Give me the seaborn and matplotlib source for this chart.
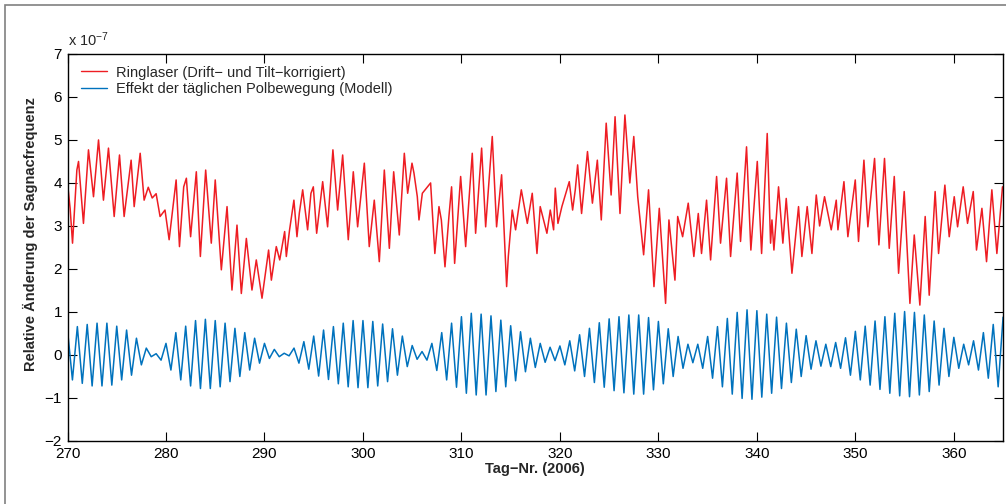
# Ringlaser vs. Modell der taeglichen Polbewegung (Werte x 1e-7)

import numpy as np
import pandas as pd
import matplotlib.pyplot as plt
import seaborn as sns
from matplotlib.lines import Line2D
from matplotlib.patches import Rectangle

# Ringlaser: Extremwerte (Tag, Wert)
red_tag = [
    270.0, 270.27, 270.51, 270.95, 271.12, 271.62, 271.9, 272.13, 272.64, 273.15,
    273.65, 274.16, 274.74, 275.28, 275.75, 276.46, 276.77, 277.38, 277.78, 278.2,
    278.6, 279.0, 279.4, 279.9, 280.32, 281.03, 281.37, 281.8, 282.07, 282.5,
    283.08, 283.49, 284.03, 284.6, 285.0, 285.62, 286.2, 286.7, 287.21, 287.65,
    288.16, 288.73, 289.17, 289.75, 290.42, 290.7, 291.2, 291.55, 292.05, 292.22,
    292.55, 292.99, 293.3, 293.54, 293.88, 294.38, 294.72, 294.96, 295.3, 295.91,
    296.41, 296.95, 297.43, 297.94, 298.51, 299.02, 299.46, 300.14, 300.64, 301.15,
    301.66, 302.17, 302.68, 303.12, 303.69, 304.2, 304.54, 304.98, 305.18, 305.52,
    305.69, 306.03, 306.87, 307.3, 307.72, 307.96, 308.33, 308.73, 309.0, 309.31,
    309.92, 310.43, 311.1, 311.44, 312.05, 312.46, 313.13, 313.57, 314.08, 314.59,
    314.76, 315.16, 315.5, 316.08, 316.69, 317.19, 317.67, 318.0, 318.34, 318.68,
    319.02, 319.36, 319.53, 319.8, 320.2, 320.95, 321.29, 321.56, 321.8, 322.2,
    322.8, 323.3, 323.8, 324.2, 324.7, 325.2, 325.6, 326.1, 326.6, 327.1,
    327.5, 327.9, 328.5, 329.0, 329.55, 330.09, 330.73, 331.07, 331.68, 331.96,
    332.46, 333.03, 333.6, 334.05, 334.38, 334.89, 335.3, 335.91, 336.31, 336.92,
    337.33, 338.0, 338.34, 338.95, 339.39, 340.04, 340.48, 341.05, 341.39, 341.53,
    341.73, 342.2, 342.64, 342.98, 343.56, 344.23, 344.57, 345.11, 345.59, 346.03,
    346.37, 346.87, 347.55, 348.06, 348.23, 348.84, 349.24, 349.99, 350.32, 350.87,
    351.27, 351.95, 352.39, 352.96, 353.44, 353.95, 354.39, 354.96, 355.54, 355.98,
    356.55, 357.09, 357.5, 358.1, 358.45, 359.09, 359.53, 360.04, 360.38, 360.95,
    361.39, 361.97, 362.3, 362.85, 363.32, 363.86, 364.37, 364.94, 365.0,
]
red_wert = [
    4.0, 3.4, 2.6, 4.3, 4.5, 3.06, 4.0, 4.77, 3.68, 5.0,
    3.6, 4.81, 3.22, 4.65, 3.22, 4.53, 3.45, 4.69, 3.6, 3.9,
    3.65, 3.75, 3.22, 3.37, 2.68, 4.07, 2.52, 3.91, 4.11, 2.75,
    4.26, 2.29, 4.3, 2.6, 4.07, 1.98, 3.45, 1.51, 3.02, 1.43,
    2.71, 1.51, 2.21, 1.32, 2.44, 1.74, 2.52, 2.21, 2.87, 2.29,
    2.91, 3.6, 2.75, 3.3, 3.84, 2.91, 3.76, 3.91, 2.83, 4.03,
    2.98, 4.77, 3.37, 4.65, 2.68, 4.26, 2.98, 4.46, 2.52, 3.6,
    2.17, 4.3, 2.48, 4.26, 2.79, 4.69, 3.76, 4.46, 4.23, 3.68,
    3.14, 3.76, 4.0, 2.36, 3.45, 3.14, 2.05, 3.22, 3.91, 2.13,
    4.15, 2.52, 4.69, 2.83, 4.81, 2.98, 5.08, 2.98, 4.19, 1.59,
    2.29, 3.37, 2.91, 3.84, 3.06, 3.76, 2.36, 3.45, 3.14, 2.83,
    3.37, 2.91, 3.88, 3.06, 3.45, 4.03, 3.37, 3.84, 4.42, 3.29,
    4.73, 3.53, 4.53, 3.14, 5.39, 3.72, 5.54, 3.29, 5.58, 4.0,
    5.08, 3.68, 2.33, 3.84, 1.59, 3.41, 1.2, 3.14, 1.74, 3.22,
    2.75, 3.53, 2.29, 3.29, 2.36, 3.6, 2.21, 4.15, 2.6, 4.11,
    2.29, 4.23, 2.64, 4.84, 2.44, 4.5, 2.36, 5.15, 2.6, 3.14,
    2.44, 3.91, 2.6, 3.64, 1.9, 3.45, 2.29, 3.45, 2.36, 3.72,
    3.0, 3.68, 2.91, 3.6, 2.91, 4.03, 2.75, 4.07, 2.64, 4.53,
    2.98, 4.57, 2.56, 4.57, 2.48, 4.15, 1.9, 3.8, 1.2, 2.79,
    1.16, 3.22, 1.39, 3.8, 2.36, 3.95, 2.75, 3.68, 2.98, 3.91,
    3.06, 3.8, 2.44, 3.41, 2.17, 3.84, 2.36, 3.91, 3.9,
]

# Modell: Maximum je Tag (270..365) und Minimum je halben Tag (270.5..364.5)
blue_max = [
    0.58, 0.66, 0.71, 0.74, 0.74, 0.67, 0.58, 0.39, 0.16, 0.03,
    0.27, 0.52, 0.67, 0.80, 0.83, 0.80, 0.74, 0.62, 0.52, 0.39,
    0.27, 0.13, 0.04, 0.16, 0.31, 0.44, 0.58, 0.66, 0.74, 0.80,
    0.80, 0.78, 0.72, 0.61, 0.44, 0.22, 0.08, 0.27, 0.52, 0.74,
    0.89, 0.97, 0.95, 0.91, 0.81, 0.68, 0.54, 0.39, 0.27, 0.18,
    0.21, 0.33, 0.47, 0.62, 0.75, 0.84, 0.89, 0.93, 0.93, 0.87,
    0.78, 0.61, 0.43, 0.25, 0.25, 0.43, 0.66, 0.85, 0.99, 1.05,
    1.03, 0.95, 0.88, 0.74, 0.60, 0.45, 0.33, 0.25, 0.29, 0.40,
    0.55, 0.67, 0.79, 0.89, 0.97, 1.01, 0.99, 0.93, 0.79, 0.62,
    0.41, 0.25, 0.33, 0.52, 0.71, 0.88,
]
blue_min = [
    -0.58, -0.66, -0.72, -0.72, -0.70, -0.58, -0.47, -0.23, -0.04, -0.12,
    -0.35, -0.58, -0.72, -0.78, -0.78, -0.74, -0.62, -0.50, -0.35, -0.19,
    -0.08, -0.04, -0.02, -0.19, -0.33, -0.49, -0.57, -0.67, -0.74, -0.76,
    -0.76, -0.72, -0.62, -0.47, -0.27, -0.10, -0.12, -0.36, -0.58, -0.75,
    -0.89, -0.93, -0.93, -0.85, -0.74, -0.60, -0.39, -0.29, -0.17, -0.13,
    -0.23, -0.37, -0.50, -0.64, -0.75, -0.83, -0.88, -0.91, -0.91, -0.81,
    -0.67, -0.50, -0.31, -0.18, -0.31, -0.54, -0.74, -0.91, -1.01, -1.03,
    -0.98, -0.89, -0.78, -0.64, -0.50, -0.33, -0.26, -0.27, -0.31, -0.47,
    -0.58, -0.70, -0.80, -0.89, -0.95, -0.97, -0.93, -0.85, -0.70, -0.50,
    -0.31, -0.23, -0.35, -0.54, -0.74,
]

labels = ['Ringlaser (Drift\u2212 und Tilt\u2212korrigiert)',
          'Effekt der täglichen Polbewegung (Modell)']
farben = {labels[0]: '#ee1d23', labels[1]: '#0072bd'}

# Tabellen bauen
red = pd.DataFrame({'Tag': red_tag, 'Wert': red_wert, 'Serie': labels[0]})

b_tag = np.concatenate([270 + np.arange(len(blue_max)), 270.5 + np.arange(len(blue_min))])
b_wert = np.concatenate([blue_max, blue_min])
order = np.argsort(b_tag)
blue = pd.DataFrame({'Tag': b_tag[order], 'Wert': b_wert[order], 'Serie': labels[1]})

df = pd.concat([red, blue], ignore_index=True)

sns.set_style('ticks')
plt.rcParams['font.family'] = ['Liberation Sans', 'DejaVu Sans']
plt.rcParams['mathtext.default'] = 'regular'

fig = plt.figure(figsize=(10.06, 5.04), dpi=100)
ax = fig.add_axes([0.0671, 0.125, 0.930, 0.768])

sns.lineplot(data=df, x='Tag', y='Wert', hue='Serie', palette=farben,
             estimator=None, sort=False, lw=1.1, legend=False, ax=ax)
for ln in ax.get_lines():
    ln.set_solid_joinstyle('round')

ax.set_xlim(270, 365)
ax.set_ylim(-2, 7)
ax.set_xticks(np.arange(270, 361, 10))
ax.set_yticks(np.arange(-2, 8, 1))
ax.tick_params(direction='in', top=True, right=True, length=6.5, width=0.8,
               labelsize=11, colors='black', pad=4)
for s in ax.spines.values():
    s.set_color('black')
    s.set_linewidth(1.0)

ax.set_xlabel('Tag\u2212Nr. (2006)', fontsize=10.5, fontweight='bold')
ax.set_ylabel('Relative Änderung der Sagnacfrequenz', fontsize=10.5, fontweight='bold')
ax.xaxis.set_label_coords(0.5, -0.055)
ax.yaxis.set_label_coords(-0.031, 0.535)

ax.text(0.0, 1.012, r'x 10$^{-7}$', transform=ax.transAxes, ha='left', va='bottom',
        fontsize=10.5)

handles = [Line2D([], [], color=farben[l], lw=1.0) for l in labels]
ax.legend(handles, labels, loc='upper left', bbox_to_anchor=(0.008, 0.985),
          frameon=False, fontsize=10.5, handlelength=1.8, handletextpad=0.6,
          labelspacing=0.15, borderaxespad=0)

# grauer Rahmen um die Abbildung
fig.patches.append(Rectangle((0.005, -0.1), 1.2, 1.09, transform=fig.transFigure,
                             fill=False, edgecolor='#808080', lw=1.2))

fig.savefig('out.png', dpi=100)
